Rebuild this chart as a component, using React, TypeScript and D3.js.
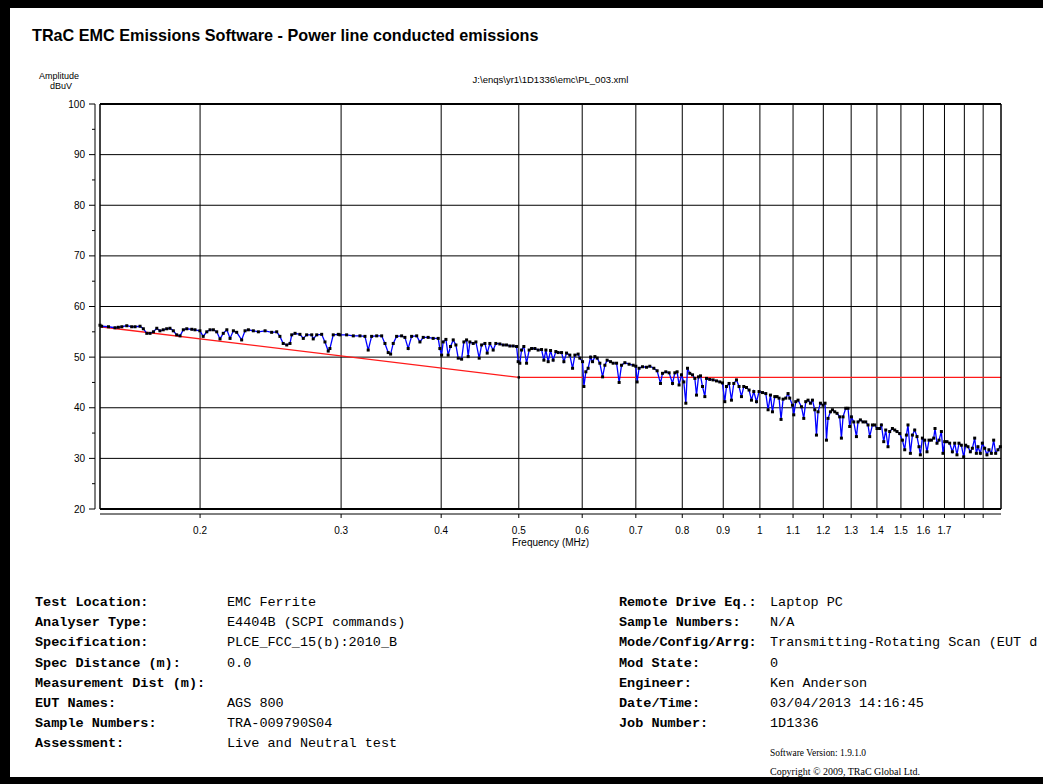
import React from 'react';
import * as d3 from 'd3';

// page + plot geometry
const W = 1043;
const H = 784;
const plot = { left: 100, right: 1001, top: 104, bottom: 509 };

const title = 'TRaC EMC Emissions Software - Power line conducted emissions';
const filePath = 'J:\\enqs\\yr1\\1D1336\\emc\\PL_003.xml';

const freqDomain: [number, number] = [0.15, 2.0];
const ampDomain: [number, number] = [20, 100];

const gridFreqs = [0.2, 0.3, 0.4, 0.5, 0.6, 0.7, 0.8, 0.9, 1, 1.1, 1.2, 1.3, 1.4, 1.5, 1.6, 1.7, 1.8, 1.9];
const labelledFreqs = [0.2, 0.3, 0.4, 0.5, 0.6, 0.7, 0.8, 0.9, 1, 1.1, 1.2, 1.3, 1.4, 1.5, 1.6, 1.7];
const yMajor = [20, 30, 40, 50, 60, 70, 80, 90, 100];
const yMinor = [25, 35, 45, 55, 65, 75, 85, 95];

// spec limit (FCC 15 class B average), MHz / dBuV
const limitLine: [number, number][] = [[0.15, 56], [0.5, 46], [2.0, 46]];

const scan: [number, number][] = [
  [0.1500, 56.3], [0.1507, 56.1], [0.1537, 56.0], [0.1566, 55.8], [0.1581, 55.9], [0.1597, 56.0], [0.1620, 56.2],
  [0.1643, 56.0], [0.1659, 56.0], [0.1683, 56.1], [0.1699, 55.6], [0.1716, 54.7], [0.1732, 54.7], [0.1749, 55.0],
  [0.1766, 55.7], [0.1782, 55.2], [0.1799, 55.4], [0.1817, 55.6], [0.1834, 55.7], [0.1852, 55.2], [0.1870, 54.4],
  [0.1888, 54.2], [0.1906, 55.4], [0.1925, 55.6], [0.1953, 55.5], [0.1971, 55.4], [0.1999, 55.2], [0.2018, 54.1],
  [0.2039, 55.0], [0.2058, 55.4], [0.2078, 55.4], [0.2098, 55.0], [0.2118, 53.6], [0.2138, 54.7], [0.2160, 55.4],
  [0.2180, 53.7], [0.2201, 55.2], [0.2222, 54.9], [0.2254, 53.4], [0.2276, 55.2], [0.2298, 55.4], [0.2331, 55.2],
  [0.2365, 55.0], [0.2411, 55.2], [0.2457, 54.9], [0.2493, 55.0], [0.2516, 54.1], [0.2540, 52.7], [0.2566, 52.4],
  [0.2590, 52.7], [0.2603, 54.4], [0.2628, 54.7], [0.2665, 54.5], [0.2691, 53.7], [0.2717, 54.4], [0.2757, 54.4],
  [0.2769, 53.6], [0.2797, 54.4], [0.2837, 54.5], [0.2864, 53.0], [0.2891, 51.2], [0.2905, 51.7], [0.2933, 54.4],
  [0.2976, 54.5],
  [0.2990, 54.4], [0.3048, 54.4], [0.3107, 54.2], [0.3167, 54.2], [0.3213, 54.1], [0.3243, 51.4], [0.3275, 54.1],
  [0.3323, 54.2], [0.3371, 54.2], [0.3403, 52.7], [0.3435, 50.9], [0.3459, 50.6], [0.3485, 52.7], [0.3519, 54.1],
  [0.3570, 54.2], [0.3604, 53.9], [0.3638, 51.7], [0.3674, 54.1], [0.3728, 54.2], [0.3763, 53.0], [0.3799, 53.9],
  [0.3853, 53.9], [0.3909, 53.7], [0.3966, 53.7], [0.3985, 51.7], [0.4005, 50.4], [0.4023, 53.0], [0.4055, 53.5],
  [0.4081, 50.4], [0.4109, 52.1], [0.4141, 53.4], [0.4173, 52.4], [0.4201, 49.8], [0.4242, 49.6], [0.4270, 53.0],
  [0.4303, 53.4], [0.4323, 50.1], [0.4344, 53.0], [0.4386, 52.7], [0.4420, 53.0], [0.4462, 49.8], [0.4493, 52.4],
  [0.4536, 52.7], [0.4566, 50.8], [0.4601, 52.7], [0.4645, 51.4], [0.4681, 52.7], [0.4735, 52.6], [0.4781, 52.4],
  [0.4827, 52.4], [0.4873, 52.2], [0.4920, 52.2], [0.4968, 52.1], [0.4991, 49.1], [0.5015, 48.8], [0.5040, 51.4],
  [0.5073, 52.1], [0.5113, 48.8], [0.5151, 51.4], [0.5187, 51.7], [0.5237, 51.7], [0.5286, 51.4], [0.5338, 51.5],
  [0.5374, 49.4], [0.5405, 51.4], [0.5441, 49.1], [0.5478, 51.3], [0.5519, 49.4], [0.5562, 51.1], [0.5599, 50.9],
  [0.5654, 50.9], [0.5692, 49.1], [0.5736, 50.8], [0.5790, 50.4], [0.5836, 47.8], [0.5875, 50.4], [0.5930, 50.6],
  [0.5959, 49.8], [0.6006, 49.1], [0.6029, 44.2], [0.6063, 47.1], [0.6103, 47.8], [0.6146, 50.0], [0.6181, 49.1],
  [0.6223, 50.1], [0.6264, 49.8], [0.6312, 48.8], [0.6362, 46.1], [0.6404, 48.4], [0.6446, 49.4], [0.6509, 49.1],
  [0.6558, 48.8], [0.6623, 48.8], [0.6672, 45.0], [0.6718, 48.4], [0.6783, 48.9], [0.6866, 48.6], [0.6946, 48.4],
  [0.7000, 48.2], [0.7026, 45.1], [0.7066, 47.8], [0.7136, 48.1], [0.7219, 48.0], [0.7287, 48.2], [0.7372, 47.8],
  [0.7442, 47.3], [0.7514, 44.8], [0.7558, 46.8], [0.7630, 47.1], [0.7703, 46.9], [0.7779, 44.8], [0.7831, 46.9],
  [0.7882, 47.1], [0.7927, 44.5], [0.7982, 46.5], [0.8035, 45.1], [0.8082, 40.9], [0.8121, 47.8], [0.8174, 46.8],
  [0.8239, 46.5], [0.8294, 45.8], [0.8334, 42.5], [0.8382, 46.1], [0.8430, 46.3], [0.8479, 44.2], [0.8536, 42.2],
  [0.8577, 45.8], [0.8658, 45.6], [0.8741, 45.5], [0.8827, 45.3], [0.8910, 45.1], [0.8980, 44.9], [0.9040, 41.2],
  [0.9084, 44.2], [0.9152, 44.8], [0.9215, 41.5], [0.9277, 44.8], [0.9349, 45.5], [0.9418, 44.2], [0.9484, 42.2],
  [0.9547, 44.2], [0.9622, 44.0], [0.9694, 43.5], [0.9761, 41.5], [0.9826, 43.2], [0.9903, 41.2], [0.9976, 43.2],
  [1.0075, 43.0], [1.0171, 42.8], [1.0238, 39.6], [1.0308, 42.5], [1.0368, 39.2], [1.0437, 42.2], [1.0506, 42.2],
  [1.0566, 41.9], [1.0627, 37.7], [1.0689, 41.7], [1.0772, 41.9], [1.0843, 42.8],
  [1.0896, 41.9], [1.0982, 40.5], [1.1023, 38.6], [1.1086, 41.2], [1.1159, 41.5], [1.1269, 40.2], [1.1344, 37.9],
  [1.1409, 41.2], [1.1484, 41.5], [1.1564, 40.9], [1.1631, 41.5], [1.1709, 39.6], [1.1766, 34.6], [1.1820, 39.2],
  [1.1901, 40.9], [1.1991, 40.5], [1.2060, 40.9], [1.2109, 33.6], [1.2164, 37.9], [1.2248, 39.2], [1.2319, 39.6],
  [1.2401, 39.2], [1.2483, 38.9], [1.2579, 38.2], [1.2641, 34.0], [1.2700, 38.2], [1.2799, 39.9], [1.2884, 39.9],
  [1.2946, 36.3], [1.3010, 38.2], [1.3097, 37.2], [1.3199, 34.3], [1.3259, 37.2], [1.3350, 37.6], [1.3451, 37.2],
  [1.3556, 37.2], [1.3646, 36.6], [1.3712, 34.3], [1.3820, 36.6], [1.3912, 36.6], [1.4003, 35.9], [1.4111, 35.9],
  [1.4181, 36.6], [1.4276, 33.3], [1.4358, 35.6], [1.4453, 32.3], [1.4523, 35.3], [1.4637, 35.9], [1.4735, 35.6],
  [1.4832, 35.3], [1.4946, 34.9], [1.5064, 33.6], [1.5164, 31.7], [1.5238, 34.6], [1.5308, 36.6], [1.5413, 31.0],
  [1.5503, 34.6], [1.5606, 35.6], [1.5709, 34.3], [1.5799, 32.3], [1.5862, 30.7], [1.5955, 34.0], [1.6061, 33.6],
  [1.6167, 31.3], [1.6260, 33.6], [1.6373, 33.6], [1.6482, 34.0], [1.6544, 35.9], [1.6639, 33.0], [1.6734, 33.6],
  [1.6850, 35.3], [1.6928, 31.0], [1.7011, 33.3], [1.7123, 33.3], [1.7255, 33.0], [1.7391, 31.3], [1.7507, 33.0],
  [1.7622, 30.7], [1.7723, 33.0], [1.7846, 32.6], [1.7965, 30.3], [1.8069, 32.6], [1.8188, 32.3], [1.8313, 31.3],
  [1.8420, 32.0], [1.8543, 34.0], [1.8633, 31.0], [1.8718, 32.3], [1.8847, 31.0], [1.8957, 33.0], [1.9083, 32.0],
  [1.9209, 30.7], [1.9319, 31.7], [1.9453, 31.0], [1.9583, 33.6], [1.9696, 31.0], [1.9826, 31.7], [1.9962, 32.3],
];

const infoLeft: [string, string][] = [
  ['Test Location:', 'EMC Ferrite'],
  ['Analyser Type:', 'E4404B (SCPI commands)'],
  ['Specification:', 'PLCE_FCC_15(b):2010_B'],
  ['Spec Distance (m):', '0.0'],
  ['Measurement Dist (m):', ''],
  ['EUT Names:', 'AGS 800'],
  ['Sample Numbers:', 'TRA-009790S04'],
  ['Assessment:', 'Live and Neutral test'],
];

const infoRight: [string, string][] = [
  ['Remote Drive Eq.:', 'Laptop PC'],
  ['Sample Numbers:', 'N/A'],
  ['Mode/Config/Arrg:', 'Transmitting-Rotating Scan (EUT d'],
  ['Mod State:', '0'],
  ['Engineer:', 'Ken Anderson'],
  ['Date/Time:', '03/04/2013 14:16:45'],
  ['Job Number:', '1D1336'],
];

const footer = ['Software Version: 1.9.1.0', 'Copyright \u00a9 2009, TRaC Global Ltd.'];

const SANS = "'Liberation Sans', Arial, sans-serif";
const MONO = "'Liberation Mono', 'Courier New', monospace";
const SERIF = "'Liberation Serif', 'Times New Roman', serif";

export default function App() {
  const x = d3.scaleLog().domain(freqDomain).range([plot.left, plot.right]);
  const y = d3.scaleLinear().domain(ampDomain).range([plot.bottom, plot.top]);
  const line = d3.line<[number, number]>().x(d => x(d[0])).y(d => y(d[1]));

  const axisX = plot.left - 5;
  const axisY = plot.bottom + 5;
  const rowH = 20.2;

  return (
    <svg width={W} height={H} style={{ position: 'fixed', left: 0, top: 0 }} fontFamily={SANS}>
      <rect x={0} y={0} width={W} height={H} fill="#000" />
      <rect x={10} y={8} width={W - 10} height={769} fill="#fff" />

      <text x={32} y={41} fontSize={16.2} fontWeight={700} fill="#000">{title}</text>

      <text x={59} y={79} fontSize={9} textAnchor="middle">Amplitude</text>
      <text x={61} y={89} fontSize={9} textAnchor="middle">dBuV</text>
      <text x={(plot.left + plot.right) / 2} y={83} fontSize={9.5} textAnchor="middle">{filePath}</text>

      {/* grid */}
      <g stroke="#000" strokeWidth={1}>
        {gridFreqs.map(f => (
          <line key={'gx' + f} x1={x(f)} x2={x(f)} y1={plot.top} y2={plot.bottom} />
        ))}
        {yMajor.slice(1, -1).map(v => (
          <line key={'gy' + v} x1={plot.left} x2={plot.right} y1={y(v)} y2={y(v)} />
        ))}
      </g>

      {/* limit */}
      <path d={line(limitLine) || ''} fill="none" stroke="#ff1a1a" strokeWidth={1.3} />
      {limitLine.slice(1, 2).map((d, i) => (
        <rect key={'lm' + i} x={x(d[0]) - 1.2} y={y(d[1]) - 1.2} width={2.4} height={2.4} fill="#000" />
      ))}

      {/* scan */}
      <path d={line(scan) || ''} fill="none" stroke="#0000ff" strokeWidth={1.3} />
      {scan.map((d, i) => (
        <rect key={'m' + i} x={x(d[0]) - 1.5} y={y(d[1]) - 1.5} width={3} height={3} fill="#000" />
      ))}

      {/* plot frame */}
      <line x1={plot.left} x2={plot.right} y1={plot.top} y2={plot.top} stroke="#000" strokeWidth={2} />
      <line x1={plot.left} x2={plot.right} y1={plot.bottom} y2={plot.bottom} stroke="#000" strokeWidth={2} />
      <line x1={plot.left} x2={plot.left} y1={plot.top} y2={plot.bottom} stroke="#000" strokeWidth={1.5} />
      <line x1={plot.right} x2={plot.right} y1={plot.top} y2={plot.bottom} stroke="#000" strokeWidth={1.5} />

      {/* y axis */}
      <g stroke="#000" strokeWidth={1}>
        <line x1={axisX} x2={axisX} y1={plot.top} y2={plot.bottom} />
        {yMajor.map(v => <line key={'ty' + v} x1={axisX - 6} x2={axisX} y1={y(v)} y2={y(v)} />)}
        {yMinor.map(v => <line key={'tm' + v} x1={axisX - 3} x2={axisX} y1={y(v)} y2={y(v)} />)}
      </g>
      {yMajor.map(v => (
        <text key={'ly' + v} x={axisX - 10} y={y(v) + 3.5} fontSize={10} textAnchor="end">{v}</text>
      ))}

      {/* x axis */}
      <g stroke="#000" strokeWidth={1}>
        <line x1={plot.left} x2={plot.right} y1={axisY} y2={axisY} />
        {gridFreqs.map(f => <line key={'tx' + f} x1={x(f)} x2={x(f)} y1={axisY} y2={axisY + 4} />)}
      </g>
      {labelledFreqs.map(f => (
        <text key={'lx' + f} x={x(f)} y={534} fontSize={10} textAnchor="middle">{String(f)}</text>
      ))}
      <text x={(plot.left + plot.right) / 2} y={546} fontSize={10} textAnchor="middle">Frequency (MHz)</text>

      {/* test info */}
      <g fontFamily={MONO} fontSize={13.5} fill="#000">
        {infoLeft.map(([k, v], i) => (
          <g key={'il' + i}>
            <text x={35} y={606 + i * rowH} fontWeight={700}>{k}</text>
            <text x={227} y={606 + i * rowH}>{v}</text>
          </g>
        ))}
        {infoRight.map(([k, v], i) => (
          <g key={'ir' + i}>
            <text x={619} y={606 + i * rowH} fontWeight={700}>{k}</text>
            <text x={770} y={606 + i * rowH}>{v}</text>
          </g>
        ))}
      </g>
      <g fontFamily={SERIF} fontSize={10} fill="#000">
        <text x={770} y={756} textLength={96} lengthAdjust="spacingAndGlyphs">{footer[0]}</text>
        <text x={770} y={775} textLength={150} lengthAdjust="spacingAndGlyphs">{footer[1]}</text>
      </g>
    </svg>
  );
}
